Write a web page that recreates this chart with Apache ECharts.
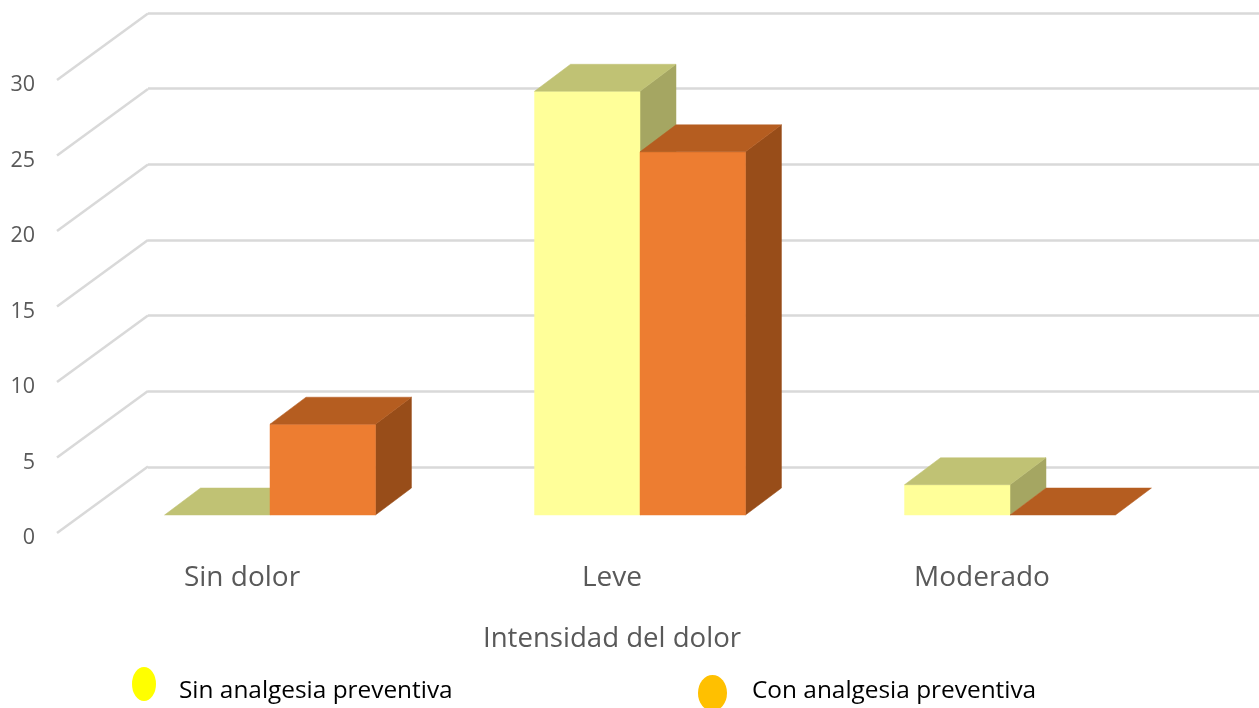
<!DOCTYPE html>
<html>
<head>
<meta charset="utf-8">
<title>Intensidad del dolor</title>
<style>
  html, body { margin: 0; padding: 0; background: #fff; overflow: hidden; }
  #chart { width: 1259px; height: 708px; }
</style>
<script src="https://cdn.jsdelivr.net/npm/echarts@6/dist/echarts.min.js"></script>
</head>
<body>
<div id="chart"></div>
<script>
const categories = ['Sin dolor', 'Leve', 'Moderado'];
const sinAnalgesia = [0, 28, 2];
const conAnalgesia = [6, 24, 0];
const yTicks = [0, 5, 10, 15, 20, 25, 30];
const axisTitle = 'Intensidad del dolor';
const seriesNames = ['Sin analgesia preventiva', 'Con analgesia preventiva'];

const FONT = '"Open Sans", "Noto Sans", sans-serif';
const GRID_COLOR = '#D9D9D9';
const TEXT_COLOR = '#595959';

// Oval legend marker; the legend stretches it to itemWidth x itemHeight
const OVAL_ICON = 'path://M0 50A50 50 0 1 1 100 50A50 50 0 1 1 0 50Z';

// Extrusion of each bar and of the floor, in pixels
const BAR_DEPTH = { x: 36, y: -27 };
const WALL_DEPTH = { x: 91, y: -66.5 };

// Faces of the extruded bars
const yellowFaces = { front: '#FFFF99', top: '#C0C274', side: '#A5A662' };
const orangeFaces = { front: '#ED7D31', top: '#B55D20', side: '#984D19' };

function poly(points, color) {
  return {
    type: 'polygon',
    shape: { points: points },
    style: { fill: color, stroke: color, lineWidth: 0.5 }
  };
}

// Draws one 3D column; side is -1 for the left bar of a pair, +1 for the right one
function barRenderer(faces, side) {
  return function (params, api) {
    const cat = api.value(0);
    const base = api.coord([cat, 0]);
    const top = api.coord([cat, api.value(1)]);
    const width = api.size([1, 0])[0] * 0.285;
    const x0 = side < 0 ? base[0] - width : base[0];
    const x1 = x0 + width;
    const d = BAR_DEPTH;
    const children = [];
    if (top[1] < base[1]) {
      children.push(poly([[x1, top[1]], [x1 + d.x, top[1] + d.y], [x1 + d.x, base[1] + d.y], [x1, base[1]]], faces.side));
      children.push(poly([[x0, top[1]], [x1, top[1]], [x1, base[1]], [x0, base[1]]], faces.front));
    }
    children.push(poly([[x0, top[1]], [x1, top[1]], [x1 + d.x, top[1] + d.y], [x0 + d.x, top[1] + d.y]], faces.top));
    return { type: 'group', children: children };
  };
}

// Diagonal floor-to-wall rules, one per value tick
function diagonalRenderer(params, api) {
  const p = api.coord([0, api.value(0)]);
  const left = params.coordSys.x;
  return {
    type: 'line',
    shape: { x1: left, y1: p[1], x2: left + WALL_DEPTH.x, y2: p[1] + WALL_DEPTH.y },
    style: { stroke: GRID_COLOR, lineWidth: 2.5, fill: null }
  };
}

const chart = echarts.init(document.getElementById('chart'), null, { renderer: 'canvas' });

function hiddenAxis(extra) {
  return Object.assign({
    show: false
  }, extra);
}

const legendFont = { color: '#000000', fontFamily: FONT, fontSize: 24.4 };

chart.setOption({
  animation: false,
  backgroundColor: '#FFFFFF',
  grid: [
    // front plane: carries the visible axis labels
    { left: 57, top: 80, width: 1110, height: 453 },
    // back wall: carries the horizontal rules
    { left: 148, top: 13, width: 1111, height: 454 },
    // plane the columns stand on
    { left: 85, top: 61, width: 1110, height: 454 }
  ],
  xAxis: [
    {
      gridIndex: 0, type: 'category', data: categories,
      axisLine: { show: false }, axisTick: { show: false },
      axisLabel: { color: TEXT_COLOR, fontFamily: FONT, fontSize: 28, margin: 31 },
      name: axisTitle, nameLocation: 'middle', nameGap: 92,
      nameTextStyle: { color: TEXT_COLOR, fontFamily: FONT, fontSize: 27.6 }
    },
    hiddenAxis({ gridIndex: 1, type: 'category', data: categories }),
    hiddenAxis({ gridIndex: 2, type: 'category', data: categories })
  ],
  yAxis: [
    {
      gridIndex: 0, type: 'value', min: 0, max: 30, interval: 5,
      axisLine: { show: false }, axisTick: { show: false }, splitLine: { show: false },
      axisLabel: {
        margin: 22,
        formatter: '{n|{value}}',
        rich: { n: { color: TEXT_COLOR, fontFamily: FONT, fontSize: 21.5, padding: [10, 0, 0, 0] } }
      }
    },
    {
      gridIndex: 1, type: 'value', min: 0, max: 30, interval: 5,
      axisLine: { show: false }, axisTick: { show: false }, axisLabel: { show: false },
      splitLine: { show: true, lineStyle: { color: GRID_COLOR, width: 2.5 } }
    },
    hiddenAxis({ gridIndex: 2, type: 'value', min: 0, max: 30, interval: 5 })
  ],
  legend: [
    {
      data: [{ name: seriesNames[0], itemStyle: { color: '#FFFF00' } }],
      left: 132, top: 667, itemWidth: 24, itemHeight: 34, itemGap: 0,
      icon: OVAL_ICON, symbolKeepAspect: false, padding: 0, selectedMode: false,
      formatter: '{t|{name}}',
      textStyle: { rich: { t: Object.assign({ padding: [14, 0, 0, 18] }, legendFont) } }
    },
    {
      data: [{ name: seriesNames[1], itemStyle: { color: '#FFC000' } }],
      left: 698, top: 675, itemWidth: 29, itemHeight: 36, itemGap: 0,
      icon: OVAL_ICON, symbolKeepAspect: false, padding: 0, selectedMode: false,
      formatter: '{t|{name}}',
      textStyle: { rich: { t: Object.assign({ padding: [0, 0, 4, 20] }, legendFont) } }
    }
  ],
  series: [
    {
      type: 'custom', xAxisIndex: 0, yAxisIndex: 0, z: 1, silent: true,
      renderItem: diagonalRenderer,
      encode: { y: 0 },
      data: yTicks.map(v => [v])
    },
    {
      name: seriesNames[0], type: 'custom', xAxisIndex: 2, yAxisIndex: 2, z: 2,
      renderItem: barRenderer(yellowFaces, -1),
      itemStyle: { color: yellowFaces.front },
      encode: { x: 0, y: 1 },
      data: sinAnalgesia.map((v, i) => [i, v])
    },
    {
      name: seriesNames[1], type: 'custom', xAxisIndex: 2, yAxisIndex: 2, z: 3,
      renderItem: barRenderer(orangeFaces, 1),
      itemStyle: { color: orangeFaces.front },
      encode: { x: 0, y: 1 },
      data: conAnalgesia.map((v, i) => [i, v])
    }
  ]
});
</script>
</body>
</html>
